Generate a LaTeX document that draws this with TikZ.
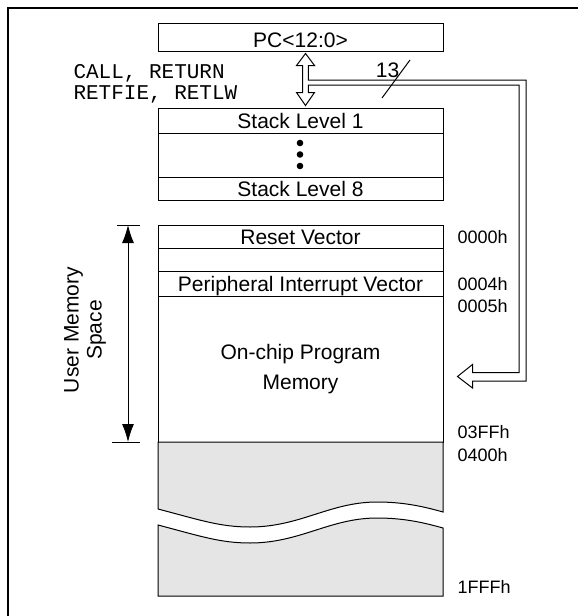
\documentclass[tikz,border=0pt]{standalone}
\usepackage{fontspec}
\setmainfont{Liberation Sans}
\setmonofont{Liberation Mono}
\usetikzlibrary{arrows.meta,calc}

\begin{document}
\begin{tikzpicture}[x=1pt, y=-1pt, line width=1pt,
	cell/.style={draw, minimum width=285pt, inner sep=0pt, font=\fontsize{21}{25}\selectfont},
	row/.style={cell, text height=15pt, text depth=0pt},
	addr/.style={anchor=base west, inner sep=0pt, font=\fontsize{18}{21}\selectfont},
	code/.style={anchor=base west, inner sep=0pt, font=\ttfamily\fontsize{21}{25}\selectfont},
	umarrow/.style={{Latex[length=18pt,width=12pt]}-{Latex[length=18pt,width=12pt]}}]

		\useasboundingbox (0,0) rectangle (578,616);
		\draw[line width=2pt] (8.3,616) -- (8.3,8.3) -- (578,8.3);

		% program counter and stack
		\node[row, minimum height=28pt, text height=21pt] (pc) at (300.5,37) {PC<12:0>};
		\node[row, minimum height=25pt] (sl1) at (300.5,120.5) {Stack Level 1};
		\node[cell, minimum height=44pt] (dots) at (300.5,155) {};
		\node[row, minimum height=23pt] (sl8) at (300.5,188.5) {Stack Level 8};
		\foreach \d in {-12,-0.5,11}
			\fill ($(dots.center)+(-0.5,\d)$) circle[radius=3.3];

		\node[code] (callret) at (73,78.3) {CALL, RETURN};
		\node[code] (retfie) at (73,99) {RETFIE, RETLW};

		% program memory
		\node[row, minimum height=23pt] (reset) at (300.5,236.5) {Reset Vector};
		\node[cell, minimum height=23pt] (blank) at (300.5,259.5) {};
		\node[row, minimum height=25pt] (piv) at (300.5,283.5) {Peripheral Interrupt Vector};
		\node[cell, minimum height=146pt, align=center, font=\fontsize{21}{30}\selectfont] (onchip) at (300.5,369) {On-chip Program\\Memory};

		% unimplemented part, broken
		\draw[fill=black!10] (158,509) -- (158,442) -- (443,442) -- (443,512)
			.. controls (425,507) and (405,502) .. (377,502)
			.. controls (330,502) and (300,527) .. (250,527)
			.. controls (220,527) and (200,520) .. (158,509);
		\draw[fill=black!10] (158,525)
			.. controls (200,536) and (220,543) .. (250,543)
			.. controls (300,543) and (330,518) .. (377,518)
			.. controls (405,518) and (425,523) .. (443,528)
			-- (443,596) -- (158,596) -- cycle;

		% addresses
		\node[addr] (a0000) at (457,243) {0000h};
		\node[addr] (a0004) at (457,290) {0004h};
		\node[addr] (a0005) at (457,312) {0005h};
		\node[addr] (a03ff) at (457,438) {03FFh};
		\node[addr] (a0400) at (457,461) {0400h};
		\node[addr] (a1fff) at (457,593) {1FFFh};

		% 13 bit bus
		\coordinate (up) at ($(pc.south)+(5,2)$);
		\coordinate (dn) at ($(sl1.north)+(5,-2)$);
		\coordinate (busend) at ($(onchip.east)+(14,7.5)$);
		\draw[fill=white] (up) -- ++(9,12) -- ++(-6.2,0) |- (526,80)
			|- ($(busend)+(15,4.5)$) -- ++(0,7) -- (busend) -- ++(15,-12) -- ++(0,8)
			-| (519,85) -| ($(dn)+(2.8,-13)$) -- ++(6.2,0) -- (dn) -- ++(-9,-13)
			-- ++(6.2,0) -- ($(up)+(-2.8,12)$) -- ++(-6.2,0) -- cycle;
		\draw (382,98) -- (410,60);
		\node[font=\fontsize{21}{25}\selectfont, inner sep=0pt] (width) at (387.5,70.5) {13};

		% user memory space
		\coordinate (umtop) at (128,225);
		\coordinate (umbot) at (128,442);
		\draw[umarrow] (umtop) -- (umbot);
		\draw (117,225) -- (140,225);
		\draw (112,442) -- (140,442);
		\node[rotate=90, align=center, font=\fontsize{21}{23}\selectfont] (ums) at (85,330) {User Memory\\Space};

\end{tikzpicture}
\end{document}
